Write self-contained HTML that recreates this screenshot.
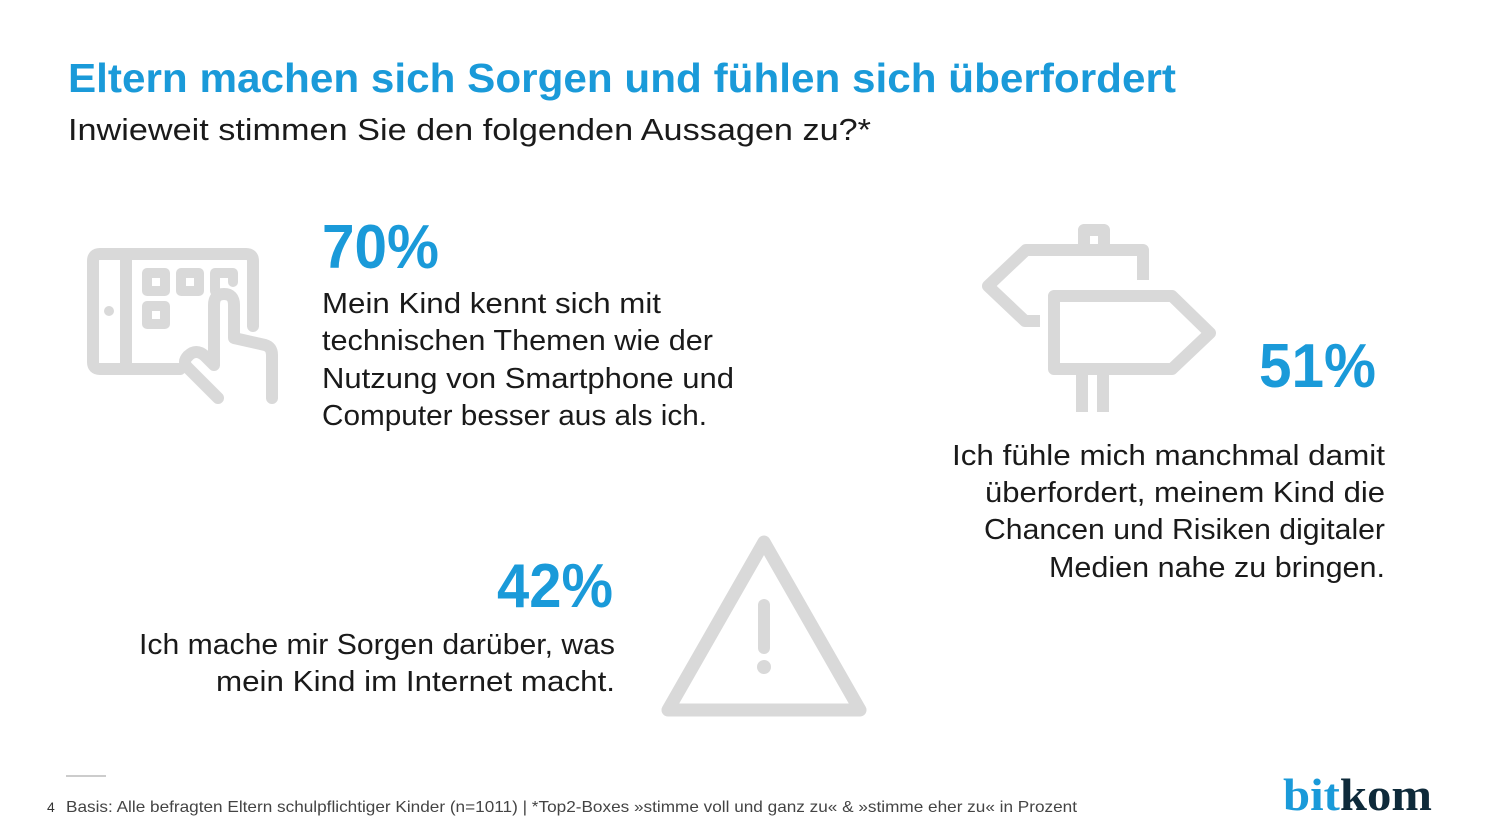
<!DOCTYPE html>
<html><head><meta charset="utf-8"><style>
html,body{margin:0;padding:0;background:#fff;}
svg{display:block;font-family:"Liberation Sans",sans-serif;}
</style></head><body>
<svg width="1500" height="839" viewBox="0 0 1500 839">
<text x="68" y="92" font-size="41" font-weight="bold" fill="#1a9ad9" textLength="1108" lengthAdjust="spacingAndGlyphs">Eltern machen sich Sorgen und fühlen sich überfordert</text>
<text x="68" y="140" font-size="31" fill="#1a1a1a" textLength="803" lengthAdjust="spacingAndGlyphs">Inwieweit stimmen Sie den folgenden Aussagen zu?*</text>

<g fill="none" stroke="#d9d9d9" stroke-width="12" stroke-linejoin="round" stroke-linecap="round">
<path d="M180 369 H100 Q93 369 93 362 V261 Q93 254 100 254 H246 Q253 254 253 261 V326"/>
<line x1="126" y1="254" x2="126" y2="369"/>
<circle cx="109" cy="311" r="5" fill="#d9d9d9" stroke="none"/>
<rect x="147" y="273" width="18" height="18" stroke-width="10"/>
<rect x="181" y="273" width="18" height="18" stroke-width="10"/>
<path d="M215 291 V273 H233 V282" stroke-width="10"/>
<rect x="147" y="306" width="18" height="18" stroke-width="10"/>
<path d="M188 356 Q182 362 188 368 L218 398"/>
<path d="M188 356 Q196 348 205 356 L214 365 V305 Q214 294 224 294 Q234 294 234 305 V338 L265 345 Q272 347 272 355 V398"/>
</g>

<g fill="none" stroke="#d9d9d9" stroke-width="12" stroke-linejoin="round">
<path d="M1040 321 H1025 L988 286 L1026 250 H1143 V280"/>
<path d="M1084 250 V230 H1104 V250"/>
<path d="M1054 296 H1172 L1210 333 L1172 369 H1054 Z"/>
<line x1="1082" y1="369" x2="1082" y2="412"/>
<line x1="1103" y1="369" x2="1103" y2="412"/>
</g>

<g fill="none" stroke="#d9d9d9" stroke-width="13" stroke-linejoin="round">
<path d="M764 542 L860 710 H668 Z"/>
<line x1="764" y1="605" x2="764" y2="648" stroke-width="12" stroke-linecap="round"/>
<circle cx="764" cy="667" r="7" fill="#d9d9d9" stroke="none"/>
</g>

<g>
<text x="322" y="268" font-size="62" font-weight="bold" fill="#1a9ad9" textLength="117" lengthAdjust="spacingAndGlyphs">70%</text>
<g font-size="29" fill="#1a1a1a">
<text x="322" y="313" textLength="339" lengthAdjust="spacingAndGlyphs">Mein Kind kennt sich mit</text>
<text x="322" y="350" textLength="391" lengthAdjust="spacingAndGlyphs">technischen Themen wie der</text>
<text x="322" y="388" textLength="412" lengthAdjust="spacingAndGlyphs">Nutzung von Smartphone und</text>
<text x="322" y="425" textLength="385" lengthAdjust="spacingAndGlyphs">Computer besser aus als ich.</text>
</g></g>

<g>
<text x="1376" y="387" text-anchor="end" font-size="62" font-weight="bold" fill="#1a9ad9" textLength="117" lengthAdjust="spacingAndGlyphs">51%</text>
<g font-size="29" fill="#1a1a1a" text-anchor="end">
<text x="1385" y="465" textLength="433" lengthAdjust="spacingAndGlyphs">Ich fühle mich manchmal damit</text>
<text x="1385" y="502" textLength="400" lengthAdjust="spacingAndGlyphs">überfordert, meinem Kind die</text>
<text x="1385" y="539" textLength="401" lengthAdjust="spacingAndGlyphs">Chancen und Risiken digitaler</text>
<text x="1385" y="577" textLength="336" lengthAdjust="spacingAndGlyphs">Medien nahe zu bringen.</text>
</g></g>

<g>
<text x="613" y="607" text-anchor="end" font-size="62" font-weight="bold" fill="#1a9ad9" textLength="116" lengthAdjust="spacingAndGlyphs">42%</text>
<g font-size="29" fill="#1a1a1a" text-anchor="end">
<text x="615" y="654" textLength="476" lengthAdjust="spacingAndGlyphs">Ich mache mir Sorgen darüber, was</text>
<text x="615" y="691" textLength="399" lengthAdjust="spacingAndGlyphs">mein Kind im Internet macht.</text>
</g></g>

<line x1="66" y1="776" x2="106" y2="776" stroke="#bbb" stroke-width="1.5"/>
<text x="47" y="812" font-size="14" fill="#333">4</text>
<text x="66" y="812" font-size="16" fill="#444" textLength="1011" lengthAdjust="spacingAndGlyphs">Basis: Alle befragten Eltern schulpflichtiger Kinder (n=1011) | *Top2-Boxes »stimme voll und ganz zu« &amp; »stimme eher zu« in Prozent</text>
<text x="1283" y="810" font-family="Liberation Serif,serif" font-size="46" font-weight="bold" textLength="149" lengthAdjust="spacingAndGlyphs"><tspan fill="#1a9ad9">bit</tspan><tspan fill="#0e2a3a">kom</tspan></text>
</svg>
</body></html>
